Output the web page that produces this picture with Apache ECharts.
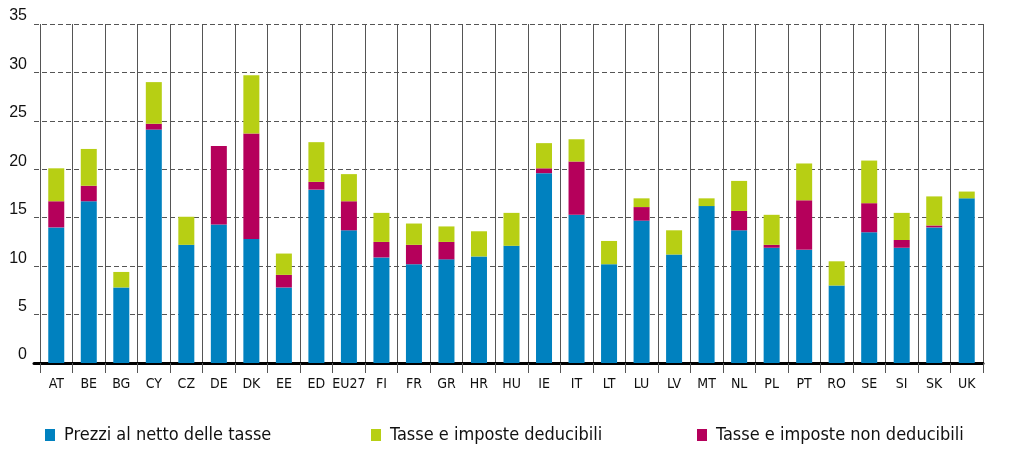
<!DOCTYPE html>
<html>
<head>
<meta charset="utf-8">
<script src="https://cdn.jsdelivr.net/npm/echarts@6/dist/echarts.min.js"></script>
<style>
html,body{margin:0;padding:0;background:#fff;}
#chart{width:1009px;height:457px;}
</style>
</head>
<body>
<div id="chart"></div>
<script>
const categories = ["AT","BE","BG","CY","CZ","DE","DK","EE","ED","EU27","FI","FR","GR","HR","HU","IE","IT","LT","LU","LV","MT","NL","PL","PT","RO","SE","SI","SK","UK"];
const prezziNetti = [14.0,16.7,7.8,24.1,12.2,14.3,12.8,7.8,17.9,13.7,10.9,10.2,10.7,11.0,12.1,19.6,15.3,10.2,14.7,11.2,16.2,13.7,11.9,11.7,8.0,13.5,11.9,14.0,17.0];
const tasseNonDeducibili = [2.7,1.6,0,0.6,0,8.1,10.9,1.3,0.8,3.0,1.6,2.0,1.8,0,0,0.5,5.5,0,1.4,0,0,2.0,0.3,5.1,0,3.0,0.8,0.2,0];
const tasseDeducibili = [3.4,3.8,1.6,4.3,2.9,0,6.0,2.2,4.1,2.8,3.0,2.2,1.6,2.6,3.4,2.6,2.3,2.4,0.9,2.5,0.8,3.1,3.1,3.8,2.5,4.4,2.8,3.0,0.7];
const seriesNames = ["Prezzi al netto delle tasse","Tasse e imposte deducibili","Tasse e imposte non deducibili"];
const yTicks = {min:0, max:35, interval:5};

const BLUE = '#0081bf', GREEN = '#b7cf14', MAGENTA = '#b5005b';
const COND = '"DejaVu Sans Condensed","Liberation Sans Narrow",sans-serif';
const chart = echarts.init(document.getElementById('chart'));
const legendFont = {fontFamily:COND, fontSize:18, color:'#111', padding:[0,0,0,4]};
function legend(name, left){
  return {data:[name], left:left, top:421, icon:'rect', itemWidth:10, itemHeight:12, textStyle:legendFont, selectedMode:false};
}
chart.setOption({
  animation:false,
  grid:[
    {left:34, right:26, top:24, bottom:94},
    {left:40, right:26, top:24, bottom:94}
  ],
  legend:[legend(seriesNames[0],40), legend(seriesNames[1],366), legend(seriesNames[2],692)],
  xAxis:[
    {type:'value', gridIndex:0, min:0, max:1, show:true,
     axisLine:{show:true, lineStyle:{color:'#000', width:3}},
     axisTick:{show:false}, axisLabel:{show:false}, splitLine:{show:false}},
    {type:'category', gridIndex:1, data:categories,
     axisLine:{show:false},
     axisTick:{show:true, interval:0, length:10, lineStyle:{color:'#555', width:1}},
     axisLabel:{interval:0, color:'#111', fontSize:14, margin:14, fontFamily:COND},
     splitLine:{show:true, interval:0, lineStyle:{color:'#555', width:1}}}
  ],
  yAxis:[
    {type:'value', gridIndex:0, min:yTicks.min, max:yTicks.max, interval:yTicks.interval,
     axisLine:{show:false}, axisTick:{show:false},
     axisLabel:{color:'#111', fontSize:16, margin:7, verticalAlign:'bottom', fontFamily:'"Liberation Sans",Arial,sans-serif'},
     splitLine:{show:true, lineStyle:{color:'#555', width:1, type:[5,3]}}},
    {type:'value', gridIndex:1, min:yTicks.min, max:yTicks.max, interval:yTicks.interval, show:false,
     splitLine:{show:false}}
  ],
  series:[
    {name:seriesNames[0], type:'bar', xAxisIndex:1, yAxisIndex:1, stack:'t', data:prezziNetti, barWidth:16, itemStyle:{color:BLUE}},
    {name:seriesNames[2], type:'bar', xAxisIndex:1, yAxisIndex:1, stack:'t', data:tasseNonDeducibili, barWidth:16, itemStyle:{color:MAGENTA}},
    {name:seriesNames[1], type:'bar', xAxisIndex:1, yAxisIndex:1, stack:'t', data:tasseDeducibili, barWidth:16, itemStyle:{color:GREEN}}
  ]
});
</script>
</body>
</html>
